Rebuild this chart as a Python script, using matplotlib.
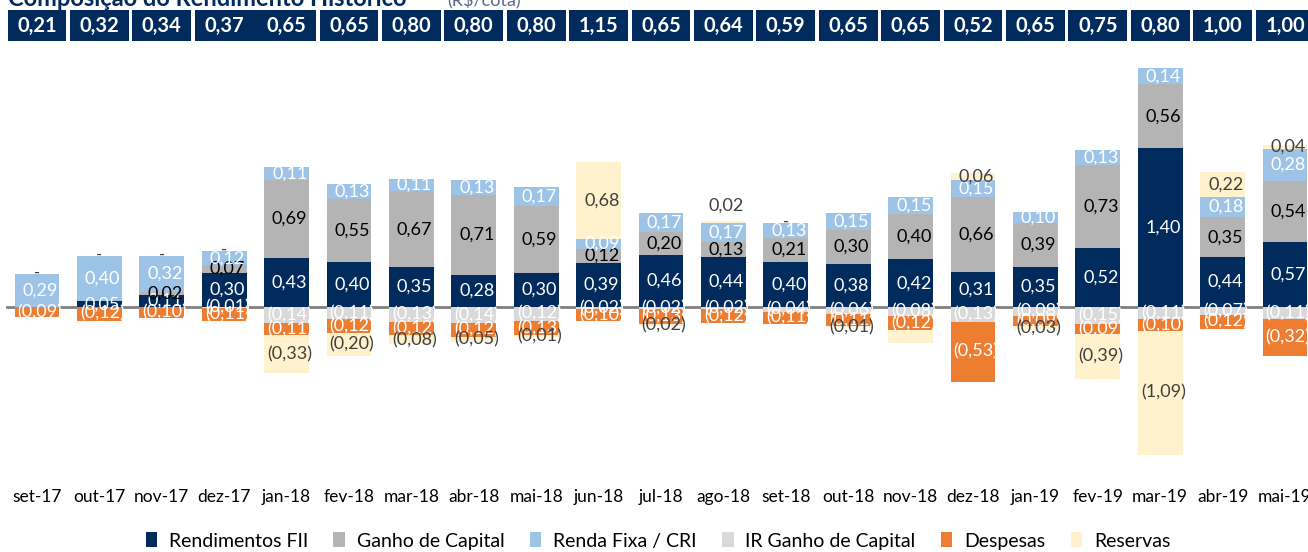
import numpy as np
import matplotlib.pyplot as plt
from matplotlib.patches import Patch

plt.rcParams['font.family'] = ['Lato', 'DejaVu Sans']

months = ['set-17', 'out-17', 'nov-17', 'dez-17', 'jan-18', 'fev-18', 'mar-18',
          'abr-18', 'mai-18', 'jun-18', 'jul-18', 'ago-18', 'set-18', 'out-18',
          'nov-18', 'dez-18', 'jan-19', 'fev-19', 'mar-19', 'abr-19', 'mai-19']
totals = [0.21, 0.32, 0.34, 0.37, 0.65, 0.65, 0.80, 0.80, 0.80, 1.15, 0.65,
          0.64, 0.59, 0.65, 0.65, 0.52, 0.65, 0.75, 0.80, 1.00, 1.00]

rendimentos = [0, 0.05, 0.11, 0.30, 0.43, 0.40, 0.35, 0.28, 0.30, 0.39, 0.46,
               0.44, 0.40, 0.38, 0.42, 0.31, 0.35, 0.52, 1.40, 0.44, 0.57]
ganho = [0, 0, 0.02, 0.07, 0.69, 0.55, 0.67, 0.71, 0.59, 0.12, 0.20,
         0.13, 0.21, 0.30, 0.40, 0.66, 0.39, 0.73, 0.56, 0.35, 0.54]
renda_fixa = [0.29, 0.40, 0.32, 0.12, 0.11, 0.13, 0.11, 0.13, 0.17, 0.09, 0.17,
              0.17, 0.13, 0.15, 0.15, 0.15, 0.10, 0.13, 0.14, 0.18, 0.28]
ir_ganho = [0, 0, 0, -0.01, -0.14, -0.11, -0.13, -0.14, -0.12, -0.02, -0.02,
            -0.02, -0.04, -0.06, -0.08, -0.13, -0.08, -0.15, -0.11, -0.07, -0.11]
despesas = [-0.09, -0.12, -0.10, -0.11, -0.11, -0.12, -0.12, -0.12, -0.13, -0.10, -0.13,
            -0.12, -0.11, -0.11, -0.12, -0.53, -0.09, -0.09, -0.10, -0.12, -0.32]
reservas = [0, 0, 0, 0, -0.33, -0.20, -0.08, -0.05, -0.01, 0.68, -0.02,
            0.02, 0, -0.01, -0.12, 0.06, -0.03, -0.39, -1.09, 0.22, 0.04]

NAVY = '#002B5C'
series = [
    ('Rendimentos FII', rendimentos, NAVY, 'white'),
    ('Ganho de Capital', ganho, '#B4B4B4', 'black'),
    ('Renda Fixa / CRI', renda_fixa, '#9DC3E6', 'white'),
    ('IR Ganho de Capital', ir_ganho, '#D9D9D9', 'white'),
    ('Despesas', despesas, '#ED7D31', 'white'),
    ('Reservas', reservas, '#FFF2CC', '#404040'),
]


def fmt(v):
    s = '%.2f' % abs(v)
    s = s.replace('.', ',')
    return '(' + s + ')' if v < 0 else s


fig = plt.figure(figsize=(13.08, 5.52), dpi=100)
W, H = 1308, 552

# main axes: zero line at 307 px, ~113.6 px per unit
ax = fig.add_axes([0, 1 - 470 / H, 1, (470 - 45) / H])
x = np.arange(len(months))
ax.set_xlim(-37 / 62.4, (W - 37) / 62.4)
ax.set_ylim(-(470 - 307) / 113.6, (307 - 45) / 113.6)
ax.axis('off')

ax.plot([-0.48, 30], [0, 0], color='#808080', lw=2, zorder=1)

bw = 0.72
pos_base = np.zeros(len(months))
neg_base = np.zeros(len(months))
for name, vals, color, tcolor in series:
    vals = np.array(vals)
    bottoms = np.where(vals >= 0, pos_base, neg_base)
    ax.bar(x, vals, bw, bottom=bottoms, color=color, edgecolor='none', zorder=2)
    for i, v in enumerate(vals):
        if v == 0:
            if name == 'Reservas':
                ax.text(i, pos_base[i] + 0.01, '-', ha='center', va='center',
                        fontsize=12, color='#404040', zorder=4)
            continue
        if name == 'Reservas' and months[i] == 'nov-18':
            continue
        yc = bottoms[i] + v / 2
        if name == 'Reservas' and months[i] == 'ago-18':
            yc = bottoms[i] + v + 0.13
        ax.text(i + 0.05, yc, fmt(v), ha='center', va='center', fontsize=13,
                color=tcolor, zorder=4)
    pos_base = pos_base + np.where(vals > 0, vals, 0)
    neg_base = neg_base + np.where(vals < 0, vals, 0)

# month labels
for i, m in enumerate(months):
    fig.text((37 + 62.4 * i) / W, 1 - 497 / H, m, ha='center', va='center',
             fontsize=12.5, color='black')

# banner with totals
bx = fig.add_axes([0, 1 - 41 / H, 1, 31 / H])
bx.set_xlim(ax.get_xlim())
bx.set_ylim(0, 1)
bx.axis('off')
bx.bar(x, [1] * len(x), 0.94, color=NAVY, edgecolor='none')
bx.bar([3.5], [1], 0.2, color=NAVY, edgecolor='none')
for i, t in enumerate(totals):
    bx.text(i, 0.5, ('%.2f' % t).replace('.', ','), ha='center', va='center',
            fontsize=14.5, fontweight='bold', color='white')

# title, cut off at the top edge
fig.text(8 / W, 1 - 6 / H, 'Composição do Rendimento Histórico', ha='left',
         va='baseline', fontsize=17, fontweight='bold', color=NAVY)
fig.text(447 / W, 1 - 6 / H, '(R$/cota)', ha='left', va='baseline',
         fontsize=13, color='#5A6B85')

handles = [Patch(facecolor=c, edgecolor='none', label=n) for n, _, c, _ in series]
fig.legend(handles=handles, loc='center', bbox_to_anchor=(0.503, 1 - 541 / H),
           ncol=6, frameon=False, fontsize=14, handlelength=0.6,
           handleheight=0.8, handletextpad=0.6, columnspacing=1.3)

fig.savefig('out.png', dpi=100)
